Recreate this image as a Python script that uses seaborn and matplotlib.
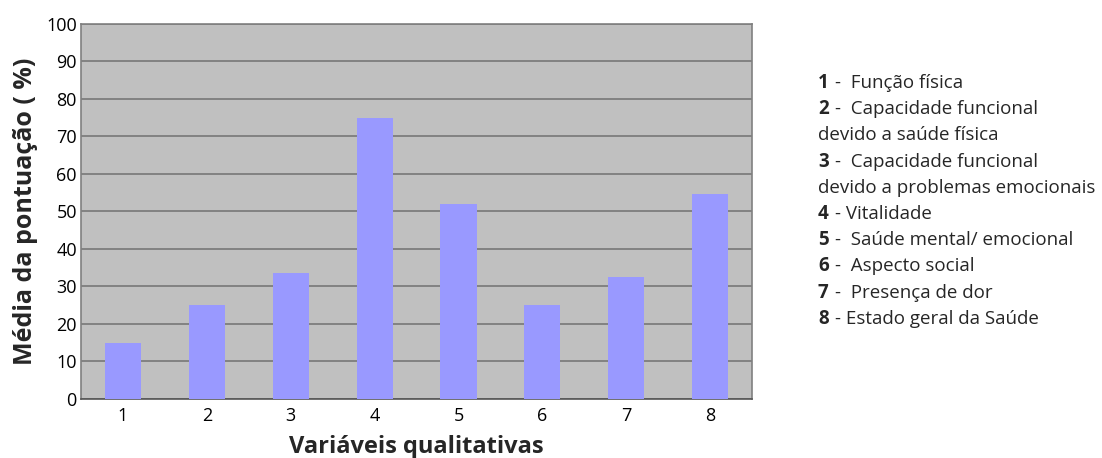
import pandas as pd
import matplotlib.pyplot as plt
import seaborn as sns

categorias = ["1", "2", "3", "4", "5", "6", "7", "8"]
medias = [15, 25, 33.5, 75, 52, 25, 32.5, 54.7]

legenda_num = ["1", "2", "", "3", "", "4", "5", "6", "7", "8"]
legenda_txt = ["-  Função física", "-  Capacidade funcional", "devido a saúde física",
               "-  Capacidade funcional", "devido a problemas emocionais",
               "- Vitalidade", "-  Saúde mental/ emocional", "-  Aspecto social",
               "-  Presença de dor", "- Estado geral da Saúde"]

df = pd.DataFrame({"var": categorias, "media": medias})

sns.set_style("white")
plt.rcParams["font.family"] = ["Open Sans", "DejaVu Sans"]

fig = plt.figure(figsize=(11.02, 4.58), dpi=100)
ax = fig.add_axes([0.0735, 0.129, 0.609, 0.819])
ax.set_facecolor("#c0c0c0")

sns.barplot(data=df, x="var", y="media", color="#9999ff", width=0.43,
            saturation=1, linewidth=0, ax=ax, zorder=3)

ax.set_ylim(0, 100)
ax.set_yticks(range(0, 101, 10))
ax.set_xlim(-0.5, 7.5)
ax.yaxis.grid(True, color="#777777", linewidth=1.2, zorder=1)
ax.set_axisbelow(True)
for s in ["top", "right", "left"]:
    ax.spines[s].set_color("#808080")
    ax.spines[s].set_linewidth(1.2)
ax.spines["bottom"].set_color("#555555")
ax.spines["bottom"].set_linewidth(1.2)
ax.tick_params(axis="both", labelsize=13, length=0, pad=3, colors="black")
ax.tick_params(axis="x", pad=6)

ax.set_xlabel("Variáveis qualitativas", fontsize=17, fontweight="bold", labelpad=7)
ax.set_ylabel("Média da pontuação ( %)", fontsize=18, fontweight="bold", labelpad=6)

# legenda em texto à direita
y0 = 83
dy = 26.2
for i, (n, t) in enumerate(zip(legenda_num, legenda_txt)):
    y = 1 - (y0 + i * dy) / 458
    if n:
        fig.text(818 / 1102, y, n, fontsize=13.5, fontweight="bold", va="center")
        fig.text(835 / 1102, y, t, fontsize=13.5, va="center")
    else:
        fig.text(818 / 1102, y, t, fontsize=13.5, va="center")

plt.savefig("out.png", dpi=100)
plt.close()
